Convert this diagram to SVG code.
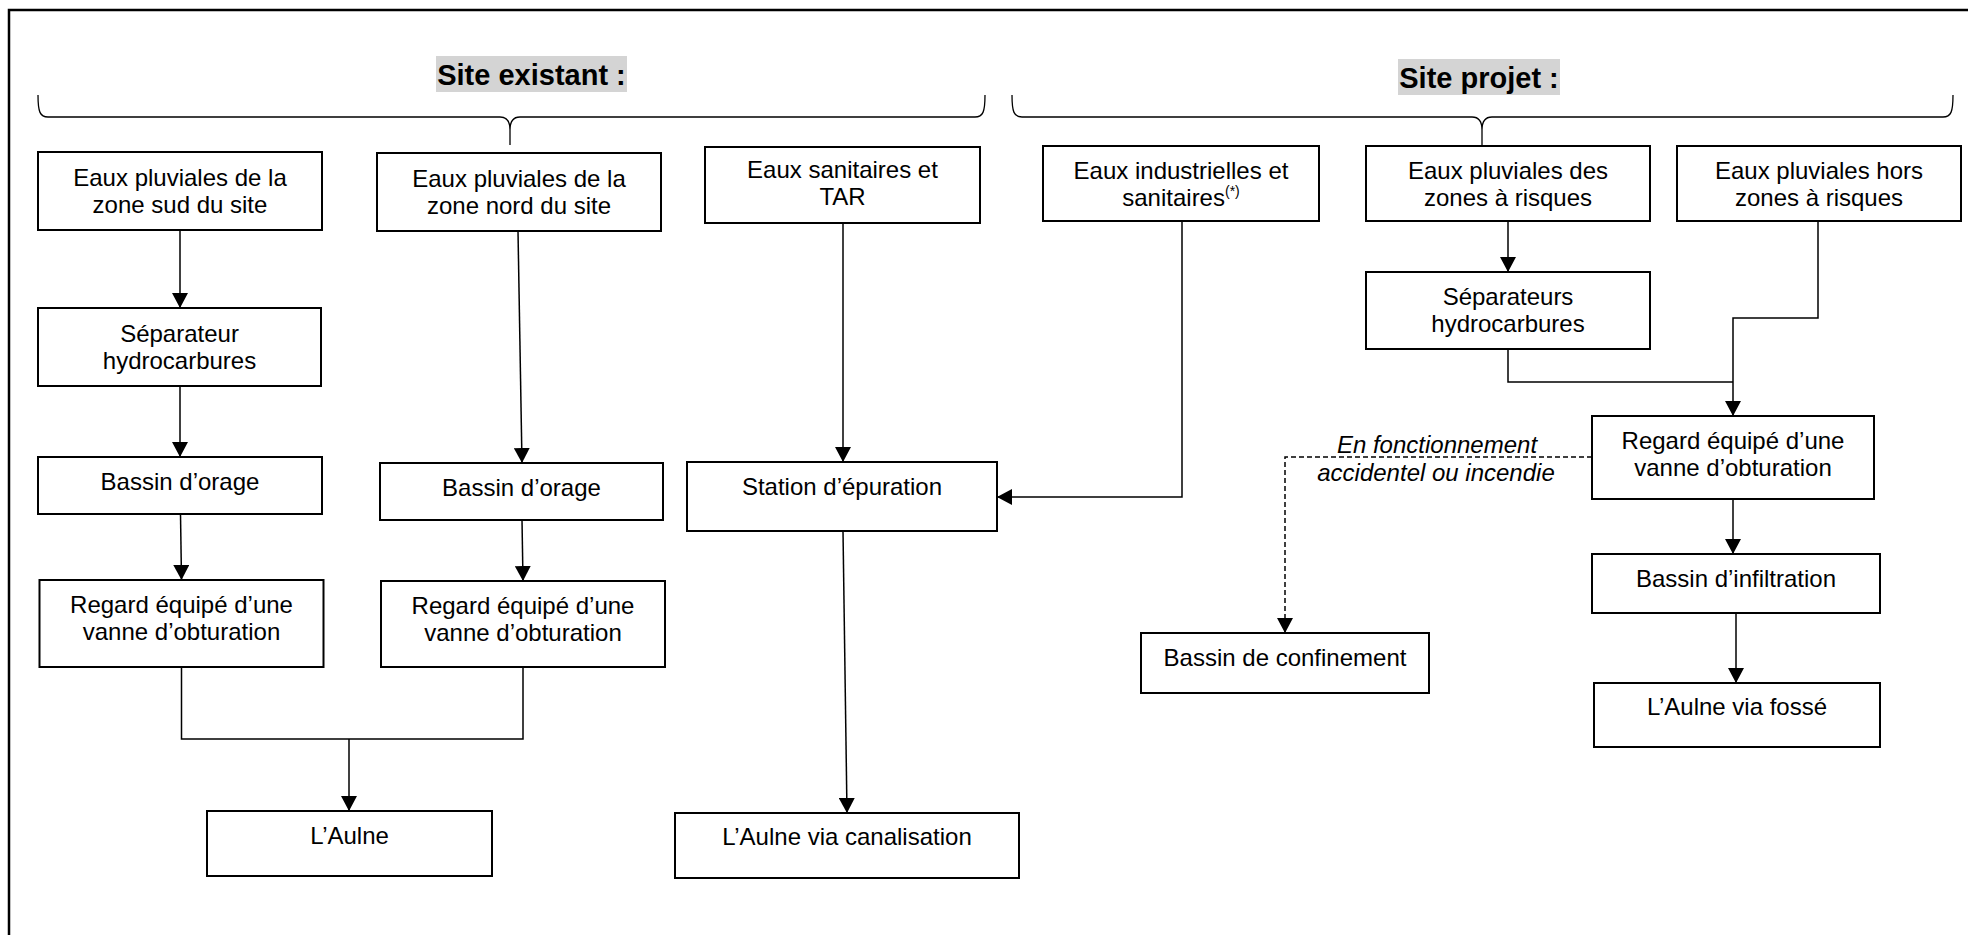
<svg xmlns="http://www.w3.org/2000/svg" width="1968" height="935" viewBox="0 0 1968 935">
<style>
.box{fill:#fff;stroke:#000;stroke-width:2}
.t{font-family:"Liberation Sans",Arial,sans-serif;font-size:24px;fill:#000;text-anchor:middle}
.ti{font-family:"Liberation Sans",Arial,sans-serif;font-size:24px;font-style:italic;fill:#000;text-anchor:middle}
.h{font-family:"Liberation Sans",Arial,sans-serif;font-size:29px;font-weight:bold;fill:#000;text-anchor:middle}
.hl{fill:#d4d4d4}
.c{fill:none;stroke:#000;stroke-width:1.5}
.a{marker-end:url(#arr)}
.d{fill:none;stroke:#000;stroke-width:1.5;stroke-dasharray:5 3}
.br{fill:none;stroke:#000;stroke-width:1.3}
</style>
<defs>
<marker id="arr" markerUnits="userSpaceOnUse" markerWidth="15" markerHeight="16" refX="15" refY="8" orient="auto">
<path d="M0,0 L15,8 L0,16 z" fill="#000"/>
</marker>
</defs>
<rect width="1968" height="935" fill="#fff"/>
<path d="M9,935 V10 H1968" fill="none" stroke="#000" stroke-width="2.5"/>

<g id="title-existant">
<rect class="hl" x="436" y="56" width="191" height="36"/>
<text class="h" x="531.5" y="85">Site existant :</text>
</g>
<g id="title-projet">
<rect class="hl" x="1398" y="59" width="162" height="36"/>
<text class="h" x="1479" y="88">Site projet :</text>
</g>

<g id="braces">
<path class="br" d="M38,95 C38,112 40,117 48,117 H500 C507,117 510,121 510,130 C510,121 513,117 520,117 H975 C983,117 985,112 985,95 M510,130 V145"/>
<path class="br" d="M1012,95 C1012,112 1014,117 1022,117 H1472 C1479,117 1482,121 1482,130 C1482,121 1485,117 1492,117 H1943 C1951,117 1953,112 1953,95 M1482,130 V146"/>
</g>

<g id="connectors">
<path class="c a" d="M180,230 V308"/>
<path class="c a" d="M180,386 V457"/>
<path class="c a" d="M180.5,514 L181.5,580"/>
<path class="c a" d="M518,231 L522,463"/>
<path class="c a" d="M522,520 L523,581"/>
<path class="c" d="M181.5,667 V739 H523 V667"/>
<path class="c a" d="M349,739 V811"/>
<path class="c a" d="M843,223 V462"/>
<path class="c a" d="M843,531 L847,813"/>
<path class="c a" d="M1182,221 V497 H997"/>
<path class="c a" d="M1508,221 V272"/>
<path class="c a" d="M1818,221 V318 H1733 V416"/>
<path class="c" d="M1508,349 V382 H1733"/>
<path class="c a" d="M1733,499 V554"/>
<path class="c a" d="M1736,613 V683"/>
<path class="d a" d="M1592,457 H1285 V633"/>
<text class="ti" x="1437" y="453">En fonctionnement</text>
<text class="ti" x="1436" y="481">accidentel ou incendie</text>
</g>

<g id="n-sud">
<rect class="box" x="38" y="152" width="284" height="78"/>
<text class="t" x="180" y="186">Eaux pluviales de la</text>
<text class="t" x="180" y="213">zone sud du site</text>
</g>
<g id="n-nord">
<rect class="box" x="377" y="153" width="284" height="78"/>
<text class="t" x="519" y="187">Eaux pluviales de la</text>
<text class="t" x="519" y="214">zone nord du site</text>
</g>
<g id="n-tar">
<rect class="box" x="705" y="147" width="275" height="76"/>
<text class="t" x="842.5" y="178">Eaux sanitaires et</text>
<text class="t" x="842.5" y="205">TAR</text>
</g>
<g id="n-industrielles">
<rect class="box" x="1043" y="146" width="276" height="75"/>
<text class="t" x="1181" y="179">Eaux industrielles et</text>
<text class="t" x="1181" y="206">sanitaires<tspan font-size="14" dy="-10">(*)</tspan></text>
</g>
<g id="n-risques">
<rect class="box" x="1366" y="146" width="284" height="75"/>
<text class="t" x="1508" y="179">Eaux pluviales des</text>
<text class="t" x="1508" y="206">zones à risques</text>
</g>
<g id="n-hors">
<rect class="box" x="1677" y="146" width="284" height="75"/>
<text class="t" x="1819" y="179">Eaux pluviales hors</text>
<text class="t" x="1819" y="206">zones à risques</text>
</g>
<g id="n-sep1">
<rect class="box" x="38" y="308" width="283" height="78"/>
<text class="t" x="179.5" y="342">Séparateur</text>
<text class="t" x="179.5" y="369">hydrocarbures</text>
</g>
<g id="n-sep2">
<rect class="box" x="1366" y="272" width="284" height="77"/>
<text class="t" x="1508" y="305">Séparateurs</text>
<text class="t" x="1508" y="332">hydrocarbures</text>
</g>
<g id="n-bassin1">
<rect class="box" x="38" y="457" width="284" height="57"/>
<text class="t" x="180" y="490">Bassin d’orage</text>
</g>
<g id="n-bassin2">
<rect class="box" x="380" y="463" width="283" height="57"/>
<text class="t" x="521.5" y="496">Bassin d’orage</text>
</g>
<g id="n-station">
<rect class="box" x="687" y="462" width="310" height="69"/>
<text class="t" x="842" y="495">Station d’épuration</text>
</g>
<g id="n-regard1">
<rect class="box" x="39.5" y="580" width="284" height="87"/>
<text class="t" x="181.5" y="613">Regard équipé d’une</text>
<text class="t" x="181.5" y="640">vanne d’obturation</text>
</g>
<g id="n-regard2">
<rect class="box" x="381" y="581" width="284" height="86"/>
<text class="t" x="523" y="614">Regard équipé d’une</text>
<text class="t" x="523" y="641">vanne d’obturation</text>
</g>
<g id="n-aulne">
<rect class="box" x="207" y="811" width="285" height="65"/>
<text class="t" x="349.5" y="844">L’Aulne</text>
</g>
<g id="n-aulne-canal">
<rect class="box" x="675" y="813" width="344" height="65"/>
<text class="t" x="847" y="845">L’Aulne via canalisation</text>
</g>
<g id="n-regard3">
<rect class="box" x="1592" y="416" width="282" height="83"/>
<text class="t" x="1733" y="449">Regard équipé d’une</text>
<text class="t" x="1733" y="476">vanne d’obturation</text>
</g>
<g id="n-infiltration">
<rect class="box" x="1592" y="554" width="288" height="59"/>
<text class="t" x="1736" y="587">Bassin d’infiltration</text>
</g>
<g id="n-aulne-fosse">
<rect class="box" x="1594" y="683" width="286" height="64"/>
<text class="t" x="1737" y="715">L’Aulne via fossé</text>
</g>
<g id="n-confinement">
<rect class="box" x="1141" y="633" width="288" height="60"/>
<text class="t" x="1285" y="666">Bassin de confinement</text>
</g>
</svg>
